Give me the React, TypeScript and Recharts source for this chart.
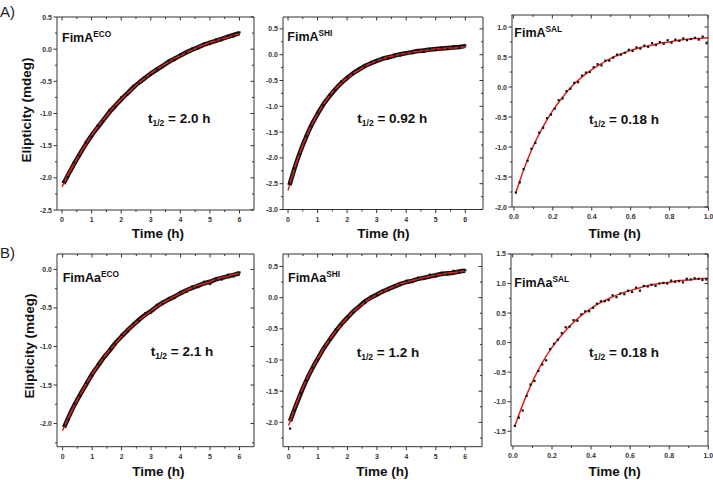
import React from "react";
import { ComposedChart, XAxis, YAxis, Line, Scatter } from "recharts";

// time grids (h)
const denseFitTimes = [0, 0.25, 0.5, 0.75, 1, 1.25, 1.5, 1.75, 2, 2.25, 2.5, 2.75, 3, 3.25, 3.5, 3.75, 4, 4.25, 4.5, 4.75, 5, 5.25, 5.5, 5.75, 6];
const denseObsTimes = [0.05, 0.2, 0.4, 0.6, 0.8, 1.0, 1.2, 1.4, 1.6, 1.8, 2.0, 2.2, 2.4, 2.6, 2.8, 3.0, 3.2, 3.4, 3.6, 3.8, 4.0, 4.2, 4.4, 4.6, 4.8, 5.0, 5.2, 5.4, 5.6, 5.8, 6.0];
const salFitTimes = [0.01, 0.05, 0.1, 0.15, 0.2, 0.25, 0.3, 0.35, 0.4, 0.45, 0.5, 0.55, 0.6, 0.65, 0.7, 0.75, 0.8, 0.85, 0.9, 0.95, 1.0];
const salObsTimes = [0.01, 0.03, 0.05, 0.07, 0.09, 0.11, 0.13, 0.15, 0.17, 0.19, 0.21, 0.23, 0.25, 0.27, 0.29, 0.31, 0.33, 0.35, 0.37, 0.39, 0.41, 0.43, 0.45, 0.47, 0.49, 0.51, 0.53, 0.55, 0.57, 0.59, 0.61, 0.63, 0.65, 0.67, 0.69, 0.71, 0.73, 0.75, 0.77, 0.79, 0.81, 0.83, 0.85, 0.87, 0.89, 0.91, 0.93, 0.95, 0.97, 0.99];

// ellipticity (mdeg): fitted curve, dense data band, scattered readings
const fimaEcoFit = [-2.14, -1.91, -1.71, -1.52, -1.34, -1.18, -1.04, -0.9, -0.78, -0.67, -0.56, -0.47, -0.38, -0.3, -0.23, -0.16, -0.1, -0.04, 0.01, 0.06, 0.1, 0.14, 0.17, 0.21, 0.24];
const fimaEcoBand = [-2.09, -1.96, -1.79, -1.63, -1.48, -1.34, -1.22, -1.1, -0.98, -0.88, -0.78, -0.69, -0.6, -0.52, -0.45, -0.38, -0.32, -0.26, -0.2, -0.15, -0.1, -0.05, -0.01, 0.03, 0.07, 0.1, 0.13, 0.16, 0.19, 0.22, 0.25];
const fimaEcoObs = [-2.06, -1.99, -1.76, -1.66, -1.45, -1.36, -1.19, -1.12, -0.95, -0.9, -0.75, -0.71, -0.57, -0.54, -0.43, -0.4, -0.3, -0.28, -0.18, -0.17, -0.08, -0.06, 0.01, 0.01, 0.09, 0.08, 0.15, 0.14, 0.21, 0.2, 0.26];
const fimaShiFit = [-2.63, -2.15, -1.75, -1.42, -1.15, -0.92, -0.73, -0.58, -0.45, -0.35, -0.26, -0.18, -0.12, -0.07, -0.03, 0.0, 0.03, 0.05, 0.07, 0.09, 0.11, 0.12, 0.13, 0.14, 0.15];
const fimaShiBand = [-2.53, -2.24, -1.9, -1.61, -1.36, -1.15, -0.96, -0.81, -0.67, -0.55, -0.45, -0.36, -0.29, -0.22, -0.17, -0.12, -0.08, -0.05, -0.02, 0.01, 0.03, 0.05, 0.07, 0.08, 0.1, 0.11, 0.12, 0.13, 0.14, 0.15, 0.17];
const fimaShiObs = [-2.5, -2.2, -1.93, -1.58, -1.39, -1.12, -0.98, -0.78, -0.69, -0.52, -0.43, -0.38, -0.26, -0.24, -0.14, -0.13, -0.06, -0.07, 0.0, -0.02, 0.05, 0.03, 0.09, 0.06, 0.11, 0.09, 0.14, 0.11, 0.16, 0.13, 0.18];
const fimaSalFit = [-1.76, -1.38, -0.98, -0.66, -0.39, -0.17, 0.02, 0.17, 0.29, 0.39, 0.48, 0.55, 0.61, 0.66, 0.69, 0.73, 0.75, 0.78, 0.8, 0.81, 0.82];
const fimaSalObs = [-1.76, -1.59, -1.37, -1.23, -1.03, -0.93, -0.76, -0.68, -0.52, -0.46, -0.36, -0.22, -0.19, -0.07, -0.03, 0.07, 0.08, 0.19, 0.24, 0.25, 0.33, 0.38, 0.36, 0.44, 0.44, 0.49, 0.54, 0.54, 0.57, 0.62, 0.6, 0.66, 0.64, 0.69, 0.67, 0.73, 0.7, 0.75, 0.72, 0.78, 0.74, 0.79, 0.77, 0.81, 0.78, 0.8, 0.82, 0.79, 0.84, 0.73];
const fimaaEcoFit = [-2.09, -1.88, -1.69, -1.52, -1.36, -1.22, -1.09, -0.98, -0.87, -0.77, -0.69, -0.61, -0.54, -0.47, -0.41, -0.36, -0.31, -0.26, -0.22, -0.19, -0.16, -0.12, -0.1, -0.07, -0.05];
const fimaaEcoBand = [-2.05, -1.92, -1.76, -1.62, -1.49, -1.36, -1.25, -1.14, -1.05, -0.95, -0.87, -0.79, -0.72, -0.65, -0.59, -0.54, -0.48, -0.43, -0.39, -0.35, -0.31, -0.27, -0.24, -0.21, -0.18, -0.16, -0.13, -0.11, -0.09, -0.07, -0.05];
const fimaaEcoObs = [-2.02, -1.95, -1.74, -1.64, -1.47, -1.38, -1.23, -1.16, -1.03, -0.97, -0.85, -0.81, -0.7, -0.67, -0.57, -0.56, -0.46, -0.45, -0.37, -0.37, -0.29, -0.29, -0.22, -0.23, -0.16, -0.19, -0.12, -0.13, -0.07, -0.09, -0.04];
const fimaaShiFit = [-2.05, -1.72, -1.43, -1.18, -0.97, -0.77, -0.6, -0.45, -0.32, -0.2, -0.11, -0.02, 0.05, 0.11, 0.16, 0.21, 0.25, 0.28, 0.31, 0.34, 0.36, 0.38, 0.4, 0.41, 0.43];
const fimaaShiBand = [-1.98, -1.79, -1.55, -1.33, -1.14, -0.97, -0.81, -0.67, -0.54, -0.42, -0.32, -0.22, -0.14, -0.06, 0.0, 0.05, 0.1, 0.14, 0.18, 0.22, 0.25, 0.27, 0.3, 0.32, 0.34, 0.36, 0.38, 0.39, 0.4, 0.42, 0.43];
const fimaaShiObs = [-2.1, -1.8, -1.53, -1.33, -1.12, -1.0, -0.78, -0.68, -0.51, -0.44, -0.3, -0.24, -0.12, -0.08, 0.02, 0.04, 0.12, 0.12, 0.2, 0.2, 0.27, 0.25, 0.32, 0.3, 0.37, 0.34, 0.4, 0.37, 0.43, 0.4, 0.44];
const fimaaSalFit = [-1.41, -1.05, -0.66, -0.34, -0.08, 0.13, 0.31, 0.46, 0.58, 0.68, 0.76, 0.83, 0.88, 0.93, 0.97, 1.0, 1.02, 1.05, 1.06, 1.08, 1.09];
const fimaaSalObs = [-1.41, -1.27, -1.15, -0.9, -0.71, -0.65, -0.48, -0.37, -0.3, -0.11, -0.02, 0.05, 0.16, 0.26, 0.27, 0.38, 0.37, 0.48, 0.53, 0.53, 0.59, 0.66, 0.7, 0.7, 0.72, 0.8, 0.77, 0.83, 0.82, 0.88, 0.86, 0.93, 0.88, 0.96, 0.95, 0.98, 0.96, 1.0, 1.01, 1.0, 1.05, 1.03, 1.04, 1.02, 1.08, 1.07, 1.09, 1.08, 1.06, 1.07];

// tick labels
const hourTicks = [0, 1, 2, 3, 4, 5, 6];
const hourMinor = [0.5, 1.5, 2.5, 3.5, 4.5, 5.5];
const shortTicks = [0, 0.2, 0.4, 0.6, 0.8, 1.0];
const shortMinor = [0.1, 0.3, 0.5, 0.7, 0.9];

const FONT = "'Liberation Sans', Arial, sans-serif";
const AXIS = "#333333";
const RED = "#e3211c";

type Pt = { t: number; y: number };
const zip = (ts: number[], ys: number[]): Pt[] => ts.map((t, i) => ({ t, y: ys[i] }));
const halves = (from: number, to: number) => {
  const out: number[] = [];
  for (let v = from; v <= to + 1e-9; v += 0.5) out.push(Math.round(v * 100) / 100);
  return out;
};

// outward tick + label on the bottom / left axis
const makeTick = (side: string, majors: number[], digits: number) => (p: any) => {
  const { x, y } = p;
  const v = p.payload.value;
  const major = majors.some((m) => Math.abs(m - v) < 1e-6);
  const len = major ? 3.5 : 2;
  const txt = { fontSize: 7, fontWeight: 700, fill: "#333", fontFamily: FONT };
  if (side === "bottom")
    return (
      <g>
        <line x1={x} x2={x} y1={y} y2={y + len} stroke={AXIS} />
        {major && <text x={x} y={y + 12} textAnchor="middle" {...txt}>{v.toFixed(digits)}</text>}
      </g>
    );
  return (
    <g>
      <line x1={x} x2={x - len} y1={y} y2={y} stroke={AXIS} />
      {major && <text x={x - 5} y={y + 2.5} textAnchor="end" {...txt}>{v.toFixed(digits)}</text>}
    </g>
  );
};

const Square = (p: any) => <rect x={p.cx - 1.1} y={p.cy - 1.1} width={2.2} height={2.2} fill="#111" />;

type PanelProps = {
  L: number; T: number; R: number; B: number;
  xDomain: [number, number]; yDomain: [number, number];
  xMajor: number[]; xMinor: number[]; yMajor: number[]; yMinor: number[];
  xDigits: number;
  fit: Pt[]; obs: Pt[]; band?: Pt[];
};

function Panel({ L, T, R, B, xDomain, yDomain, xMajor, xMinor, yMajor, yMinor, xDigits, fit, obs, band }: PanelProps) {
  const pw = R - L;
  const ph = B - T;
  const xt = [...xMajor, ...xMinor].sort((a, b) => a - b);
  const yt = [...yMajor, ...yMinor].sort((a, b) => a - b);
  return (
    <div style={{ position: "absolute", left: L - 30, top: T - 5 }}>
      <ComposedChart width={pw + 35} height={ph + 25} margin={{ top: 5, right: 5, left: 0, bottom: 0 }}>
        <XAxis dataKey="t" type="number" domain={xDomain} allowDataOverflow ticks={xt} interval={0}
          height={20} tickSize={0} tickMargin={0} tickLine={false} axisLine={{ stroke: AXIS }}
          tick={makeTick("bottom", xMajor, xDigits)} />
        <YAxis dataKey="y" type="number" domain={yDomain} allowDataOverflow ticks={yt} interval={0}
          width={30} tickSize={0} tickMargin={0} tickLine={false} axisLine={{ stroke: AXIS }}
          tick={makeTick("left", yMajor, 1)} />
        {band && (
          <Line data={band} dataKey="y" type="monotone" stroke="#141414" strokeWidth={4.5}
            dot={false} isAnimationActive={false} />
        )}
        <Scatter data={obs} dataKey="y" shape={Square} isAnimationActive={false} />
        <Line data={fit} dataKey="y" type="monotone" stroke={RED} strokeWidth={1.5}
          dot={false} isAnimationActive={false} />
      </ComposedChart>
    </div>
  );
}

// top and right edges of the plot box with their inward ticks
function Frame({ L, T, R, B, xDomain, yDomain, xMajor, xMinor, yMajor, yMinor }: PanelProps) {
  const sx = (v: number) => L + ((v - xDomain[0]) / (xDomain[1] - xDomain[0])) * (R - L);
  const sy = (v: number) => T + ((yDomain[1] - v) / (yDomain[1] - yDomain[0])) * (B - T);
  return (
    <g stroke={AXIS} strokeWidth={1} fill="none">
      <path d={`M${L},${T} H${R} V${B}`} />
      {xMajor.map((v) => <line key={"xM" + v} x1={sx(v)} x2={sx(v)} y1={T} y2={T + 3.5} />)}
      {xMinor.map((v) => <line key={"xm" + v} x1={sx(v)} x2={sx(v)} y1={T} y2={T + 2} />)}
      {yMajor.map((v) => <line key={"yM" + v} x1={R} x2={R - 3.5} y1={sy(v)} y2={sy(v)} />)}
      {yMinor.map((v) => <line key={"ym" + v} x1={R} x2={R - 2} y1={sy(v)} y2={sy(v)} />)}
    </g>
  );
}

const panels: PanelProps[] = [
  { L: 57, T: 17, R: 254, B: 210, xDomain: [-0.17, 6.49], yDomain: [-2.5, 0.5], xMajor: hourTicks, xMinor: hourMinor,
    yMajor: halves(-2.5, 0.5), yMinor: halves(-2.25, 0.25), xDigits: 0,
    fit: zip(denseFitTimes, fimaEcoFit), obs: zip(denseObsTimes, fimaEcoObs), band: zip(denseObsTimes, fimaEcoBand) },
  { L: 283, T: 17, R: 483, B: 209.5, xDomain: [-0.17, 6.6], yDomain: [-3.0, 0.73], xMajor: hourTicks, xMinor: hourMinor,
    yMajor: halves(-3, 0.5), yMinor: halves(-2.75, 0.25), xDigits: 0,
    fit: zip(denseFitTimes, fimaShiFit), obs: zip(denseObsTimes, fimaShiObs), band: zip(denseObsTimes, fimaShiBand) },
  { L: 511.5, T: 15, R: 708, B: 207, xDomain: [-0.01, 1.0], yDomain: [-2.0, 1.2], xMajor: shortTicks, xMinor: shortMinor,
    yMajor: halves(-2, 1), yMinor: halves(-1.75, 0.75), xDigits: 1,
    fit: zip(salFitTimes, fimaSalFit), obs: zip(salObsTimes, fimaSalObs) },
  { L: 57, T: 254, R: 254, B: 446.7, xDomain: [-0.19, 6.49], yDomain: [-2.3, 0.2], xMajor: hourTicks, xMinor: hourMinor,
    yMajor: halves(-2, 0), yMinor: halves(-2.25, -0.25), xDigits: 0,
    fit: zip(denseFitTimes, fimaaEcoFit), obs: zip(denseObsTimes, fimaaEcoObs), band: zip(denseObsTimes, fimaaEcoBand) },
  { L: 282.7, T: 254, R: 482, B: 446.7, xDomain: [-0.19, 6.58], yDomain: [-2.39, 0.7], xMajor: hourTicks, xMinor: hourMinor,
    yMajor: halves(-2, 0.5), yMinor: halves(-2.25, 0.25), xDigits: 0,
    fit: zip(denseFitTimes, fimaaShiFit), obs: zip(denseObsTimes, fimaaShiObs), band: zip(denseObsTimes, fimaaShiBand) },
  { L: 510.7, T: 254, R: 708, B: 446, xDomain: [-0.01, 1.0], yDomain: [-1.75, 1.5], xMajor: shortTicks, xMinor: shortMinor,
    yMajor: halves(-1.5, 1.5), yMinor: halves(-1.25, 1.25), xDigits: 1,
    fit: zip(salFitTimes, fimaaSalFit), obs: zip(salObsTimes, fimaaSalObs) },
];

const names = [
  { base: "FimA", sup: "ECO", x: 62, y: 41.5, half: "2.0", hx: 148, hy: 123 },
  { base: "FimA", sup: "SHI", x: 287.3, y: 40.7, half: "0.92", hx: 357.3, hy: 122.5 },
  { base: "FimA", sup: "SAL", x: 514.3, y: 36.7, half: "0.18", hx: 589, hy: 124 },
  { base: "FimAa", sup: "ECO", x: 62.7, y: 281.7, half: "2.1", hx: 150.7, hy: 356 },
  { base: "FimAa", sup: "SHI", x: 288, y: 281.7, half: "1.2", hx: 356.7, hy: 356.5 },
  { base: "FimAa", sup: "SAL", x: 514.3, y: 286.7, half: "0.18", hx: 589, hy: 356.5 },
];

const timeTitles = [
  { x: 158, y: 238 }, { x: 383.5, y: 238 }, { x: 614.7, y: 238 },
  { x: 158.3, y: 476 }, { x: 382.3, y: 476 }, { x: 614.7, y: 476 },
];

export default function App() {
  const bold = { fontFamily: FONT, fontWeight: 700, fill: "#111" } as const;
  return (
    <div style={{ position: "absolute", left: 0, top: 0, width: 713, height: 480, background: "#fff", overflow: "hidden" }}>
      {panels.map((p, i) => <Panel key={i} {...p} />)}
      <svg width={713} height={480} style={{ position: "absolute", left: 0, top: 0, pointerEvents: "none" }}>
        {panels.map((p, i) => <Frame key={i} {...p} />)}
        <text x={0} y={17} fontSize={15} fontFamily={FONT} fill="#222">A)</text>
        <text x={0} y={258} fontSize={15} fontFamily={FONT} fill="#222">B)</text>
        {names.map((n, i) => (
          <g key={i}>
            <text x={n.x} y={n.y} fontSize={12.5} {...bold}>
              {n.base}
              <tspan dy={-5} fontSize={8.3}>{n.sup}</tspan>
            </text>
            <text x={n.hx} y={n.hy} fontSize={13.5} {...bold}>
              t<tspan dy={3} fontSize={8.5}>1/2</tspan>
              <tspan dy={-3}>{` = ${n.half} h`}</tspan>
            </text>
          </g>
        ))}
        {timeTitles.map((t, i) => (
          <text key={i} x={t.x} y={t.y} fontSize={13.5} textAnchor="middle" {...bold}>Time (h)</text>
        ))}
        <text transform="translate(31,110) rotate(-90)" fontSize={13.5} textAnchor="middle" {...bold}>Elipticity (mdeg)</text>
        <text transform="translate(34,346) rotate(-90)" fontSize={13.5} textAnchor="middle" {...bold}>Elipticity (mdeg)</text>
      </svg>
    </div>
  );
}
